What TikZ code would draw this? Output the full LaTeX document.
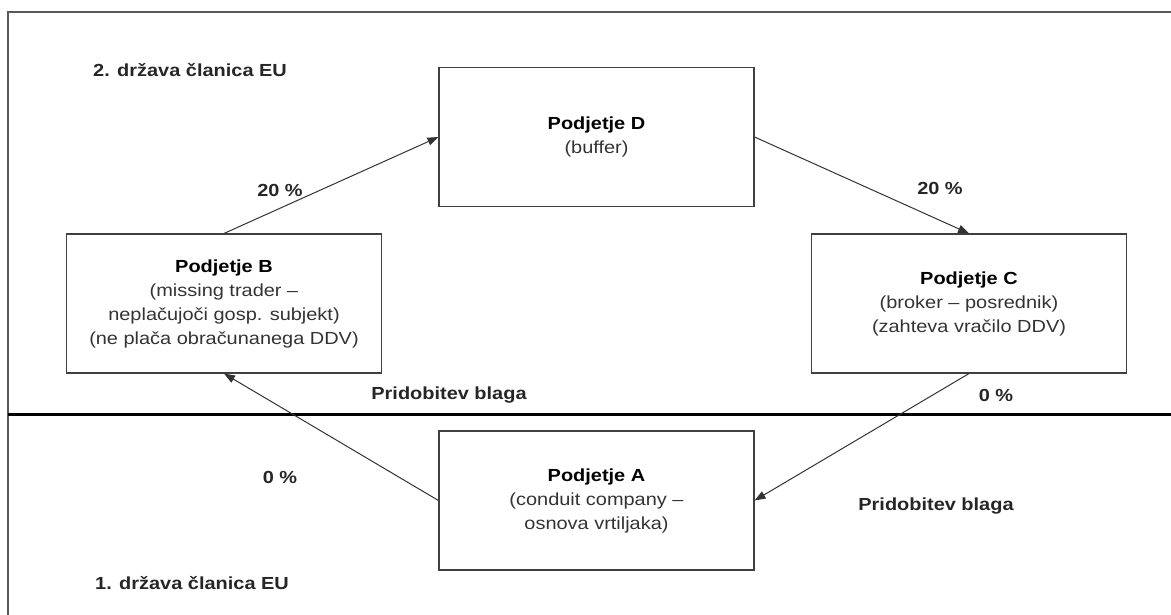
\documentclass[tikz,border=0pt]{standalone}
\usepackage{fontspec}
\setmainfont[FakeStretch=1.14]{Liberation Sans}
\usetikzlibrary{arrows.meta}
\begin{document}
\begin{tikzpicture}[x=1pt,y=-1pt,
  firm/.style={draw=black!75,line width=1.1pt,minimum width=315pt,minimum height=139pt,inner sep=0pt,
    align=center,text=black!80,font=\fontsize{17.5}{24}\selectfont},
  lbl/.style={font=\fontsize{17.5}{24}\selectfont\bfseries,text=black!85,inner sep=0pt},
  flow/.style={draw=black!80,line width=1pt,-{Triangle[length=11pt,width=8pt]}}]
\useasboundingbox (0,0) rectangle (1171,615);
% frame
\coordinate (ftl) at (8,12);
\coordinate (ftr) at (1171,12);
\coordinate (fbl) at (8,615);
\draw[black!65,line width=1.3pt] (fbl) -- (ftl) -- (ftr);
% border between states
\coordinate (sl) at (8,414);
\coordinate (sr) at (1171,414);
\draw[black,line width=3pt] (sl) -- (sr);
% firms
\node[firm] (D) at (596.5,137) {{\bfseries\color{black}Podjetje D}\\(buffer)};
\node[firm] (B) at (224,303.5) {{\bfseries\color{black}Podjetje B}\\(missing trader --\\neplačujoči gosp. subjekt)\\(ne plača obračunanega DDV)};
\node[firm] (C) at (969,303.5) {{\bfseries\color{black}Podjetje C}\\(broker -- posrednik)\\(zahteva vračilo DDV)};
\node[firm] (A) at (596.5,500.5) {{\bfseries\color{black}Podjetje A}\\(conduit company --\\osnova vrtiljaka)};
% flows
\draw[flow] (B.north) -- (D.west);
\draw[flow] (D.east) -- (C.north);
\draw[flow] (C.south) -- (A.east);
\draw[flow] (A.west) -- (B.south);
% labels
\node[lbl,anchor=base west] (s2) at (93,77) {2. država članica EU};
\node[lbl,anchor=base west] (s1) at (95,589) {1. država članica EU};
\node[lbl] (p1) at (280,190) {20 \%};
\node[lbl] (p2) at (940,188) {20 \%};
\node[lbl] (p3) at (996,395) {0 \%};
\node[lbl] (p4) at (280,477) {0 \%};
\node[lbl] (g1) at (449,395) {Pridobitev blaga};
\node[lbl] (g2) at (936,506) {Pridobitev blaga};
\end{tikzpicture}
\end{document}
